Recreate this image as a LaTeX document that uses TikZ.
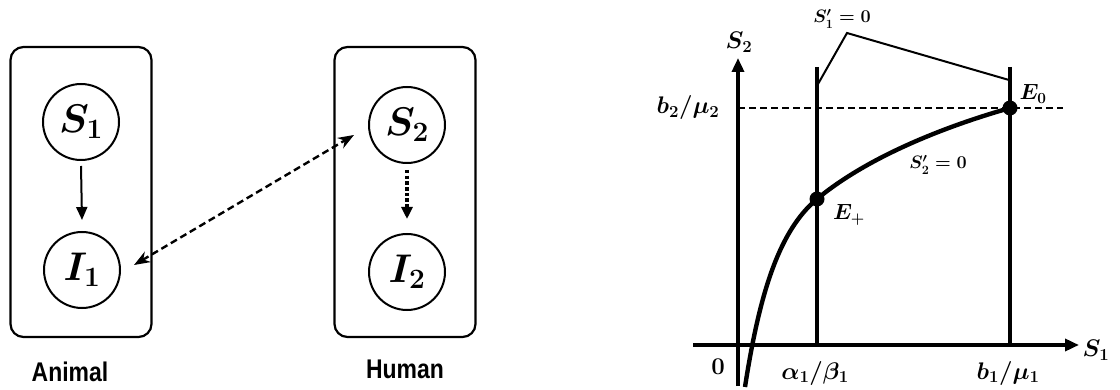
\RequirePackage{fix-cm}
\documentclass[tikz,border=0pt]{standalone}
\usepackage{fontspec}
\newfontfamily\labfont{Liberation Sans}
\usetikzlibrary{arrows.meta}
\begin{document}
\begin{tikzpicture}[x=1pt,y=-1pt,
  grp/.style={draw, rounded corners=13pt, line width=2.2pt, minimum width=141pt, minimum height=290pt},
  circ/.style={draw, circle, line width=2pt, minimum size=76pt, inner sep=0pt, font=\fontsize{40}{42}\selectfont\boldmath},
  lab/.style={font=\labfont\bfseries\fontsize{27}{29}\selectfont},
  glab/.style={font=\fontsize{24}{26}\selectfont\boldmath, inner sep=1pt},
  slab/.style={font=\fontsize{18}{20}\selectfont\boldmath, inner sep=1pt},
  axisline/.style={line width=3.4pt},
  nullc/.style={line width=3.4pt},
  dot/.style={circle, fill=black, minimum size=15pt, inner sep=0pt},
  tipA/.style={-{Triangle[length=14pt,width=12pt]}},
]
\useasboundingbox (0,0) rectangle (1120,390);

% --- left diagram ---
\node[grp] (animal) at (81,192) {};
\node[grp] (human) at (405,192) {};
\node[circ] (S1) at (81,122) {$S_1$};
\node[circ] (I1) at (82,270) {$I_1$};
\node[circ] (S2) at (407,125) {$S_2$};
\node[circ] (I2) at (407,272) {$I_2$};
\node[lab] (animallab) at (70,372) {\scalebox{0.85}[1]{Animal}};
\node[lab] (humanlab) at (405,369) {\scalebox{0.85}[1]{Human}};

\draw[line width=2pt, -{Triangle[length=13pt,width=11pt]}] ([yshift=-5pt]S1.south) -- ([yshift=11pt]I1.north);
\draw[line width=3.2pt, dash pattern=on 3.5pt off 2.2pt, -{Triangle[length=12pt,width=11pt]}] ([yshift=-6pt]S2.south) -- ([yshift=14pt]I2.north);
\draw[line width=2.4pt, dash pattern=on 7pt off 4pt, {Stealth[length=16pt,width=12pt]}-{Stealth[length=16pt,width=12pt]}]
  ([shift={(13,-5)}]I1.east) -- ([shift={(-14,10)}]S2.west);

% --- right diagram ---
\coordinate (O) at (738,345);
\coordinate (xs) at (693,345);
\coordinate (xe) at (1079,345);
\coordinate (ys) at (738,386);
\coordinate (ye) at (738,58);
\coordinate (a1) at (817,67);
\coordinate (a0) at (817,345);
\coordinate (c1) at (1010,67);
\coordinate (c0) at (1010,345);
\coordinate (h0) at (738,108);
\coordinate (h1) at (1063,108);
\coordinate (lk) at (847,33);
\coordinate (la) at (818,84);
\coordinate (lc) at (1009,80);
\coordinate (cb) at (745,387);

\draw[axisline, tipA] (xs) -- (xe);
\draw[axisline, tipA] (ys) -- (ye);
\draw[nullc] (a1) -- (a0);
\draw[nullc] (c1) -- (c0);
\draw[line width=2.4pt, dash pattern=on 7pt off 4pt] (h0) -- (h1);
\draw[line width=2pt] (la) -- (lk) -- (lc);

\node[dot] (Ep) at (817,199) {};
\node[dot] (E0) at (1010,108) {};
\draw[line width=4.4pt] (cb) .. controls (760,290) and (780,230) .. (Ep.center)
  .. controls (870,155) and (950,125) .. (E0.center);

\node[glab, font=\fontsize{22}{24}\selectfont\boldmath] (Eplab) at (849,215) {$E_+$};
\node[glab, font=\fontsize{22}{24}\selectfont\boldmath] (E0lab) at (1033,94) {$E_0$};
\node[glab] (S2ax) at (739,42) {$S_2$};
\node[glab] (S1ax) at (1096,350) {$S_1$};
\node[glab] (zero) at (718,367) {$0$};
\node[glab] (ab) at (815,373) {$\alpha_1/\beta_1$};
\node[glab] (bm1) at (1008,373) {$b_1/\mu_1$};
\node[glab] (bm2) at (688,108) {$b_2/\mu_2$};
\node[slab] (n1) at (842,19) {$S_1'=0$};
\node[slab] (n2) at (938,165) {$S_2'=0$};
\end{tikzpicture}
\end{document}
